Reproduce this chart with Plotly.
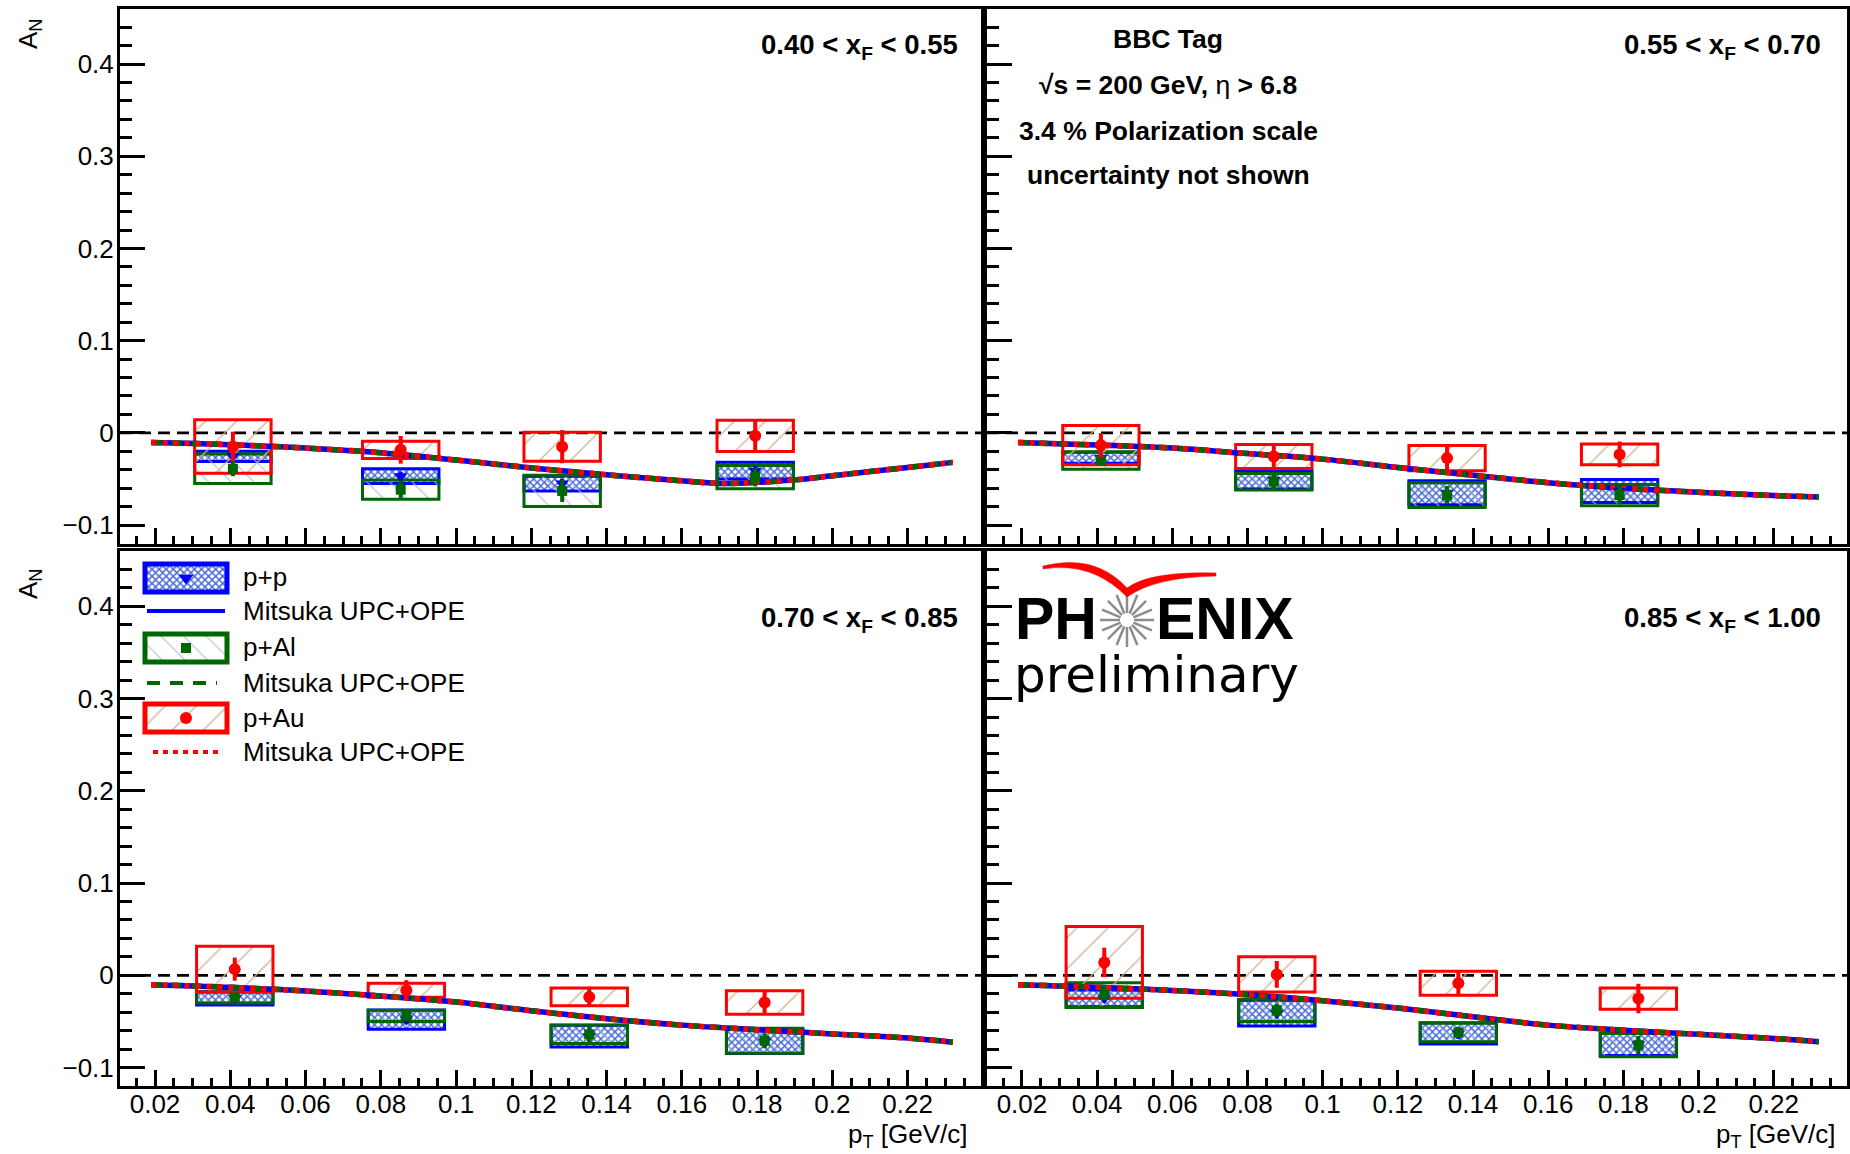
import numpy as np
import plotly.graph_objects as go

W, H = 1850, 1154
FONT = "Liberation Sans, Arial, Helvetica, sans-serif"

# ---------------- data ----------------
xf_labels = ["0.40 &lt; x<sub>F</sub> &lt; 0.55", "0.55 &lt; x<sub>F</sub> &lt; 0.70",
             "0.70 &lt; x<sub>F</sub> &lt; 0.85", "0.85 &lt; x<sub>F</sub> &lt; 1.00"]

x_tickvals = [0.02, 0.04, 0.06, 0.08, 0.10, 0.12, 0.14, 0.16, 0.18, 0.20, 0.22]
x_ticktext = ["0.02", "0.04", "0.06", "0.08", "0.1", "0.12", "0.14", "0.16", "0.18", "0.2", "0.22"]
y_tickvals = [-0.1, 0.0, 0.1, 0.2, 0.3, 0.4]
y_ticktext = ["\u22120.1", "0", "0.1", "0.2", "0.3", "0.4"]

# panel 1 : 0.40 < xF < 0.55
pt_1 = [0.0407, 0.0853, 0.1282, 0.1795]
pp_1 = [-0.0255, -0.047, -0.055, -0.041]
pp_stat_1 = [0.004, 0.005, 0.005, 0.005]
pp_syst_1 = [0.0055, 0.008, 0.008, 0.009]
pal_1 = [-0.039, -0.0616, -0.063, -0.048]
pal_stat_1 = [0.008, 0.010, 0.012, 0.010]
pal_syst_1 = [0.016, 0.0105, 0.017, 0.0125]
pau_1 = [-0.0148, -0.0184, -0.0150, -0.0032]
pau_stat_1 = [0.016, 0.015, 0.018, 0.017]
pau_syst_1 = [0.029, 0.0094, 0.0157, 0.017]

# panel 2 : 0.55 < xF < 0.70
pt_2 = [0.0410, 0.0870, 0.1331, 0.1790]
pp_2 = [-0.027, -0.051, -0.065, -0.063]
pp_stat_2 = [0.004, 0.005, 0.006, 0.006]
pp_syst_2 = [0.006, 0.010, 0.013, 0.0125]
pal_2 = [-0.030, -0.053, -0.0675, -0.0675]
pal_stat_2 = [0.006, 0.008, 0.010, 0.010]
pal_syst_2 = [0.0095, 0.009, 0.0135, 0.0115]
pau_2 = [-0.0133, -0.0256, -0.0274, -0.0234]
pau_stat_2 = [0.013, 0.012, 0.0145, 0.014]
pau_syst_2 = [0.0213, 0.013, 0.0137, 0.0112]

# panel 3 : 0.70 < xF < 0.85
pt_3 = [0.0412, 0.0868, 0.1354, 0.1820]
pp_3 = [-0.025, -0.048, -0.066, -0.0717]
pp_stat_3 = [0.004, 0.005, 0.006, 0.006]
pp_syst_3 = [0.0073, 0.0104, 0.0118, 0.013]
pal_3 = [-0.024, -0.044, -0.064, -0.071]
pal_stat_3 = [0.005, 0.006, 0.008, 0.008]
pal_syst_3 = [0.006, 0.006, 0.010, 0.0135]
pau_3 = [0.0067, -0.0162, -0.0234, -0.0295]
pau_stat_3 = [0.0125, 0.011, 0.011, 0.013]
pau_syst_3 = [0.0247, 0.0077, 0.0096, 0.0128]

# panel 4 : 0.85 < xF < 1.00
pt_4 = [0.0419, 0.0878, 0.1361, 0.1840]
pp_4 = [-0.025, -0.041, -0.063, -0.075]
pp_stat_4 = [0.004, 0.005, 0.006, 0.006]
pp_syst_4 = [0.009, 0.014, 0.0115, 0.0118]
pal_4 = [-0.0215, -0.038, -0.062, -0.0757]
pal_stat_4 = [0.005, 0.007, 0.006, 0.010]
pal_syst_4 = [0.0135, 0.012, 0.010, 0.0125]
pau_4 = [0.0140, 0.0010, -0.0086, -0.0252]
pau_stat_4 = [0.016, 0.0145, 0.014, 0.016]
pau_syst_4 = [0.039, 0.019, 0.013, 0.0115]

# Mitsuka UPC+OPE model curves
model_x_1 = [0.019, 0.04, 0.06, 0.08, 0.10, 0.12, 0.14, 0.16, 0.17, 0.18, 0.19, 0.20, 0.21, 0.22, 0.232]
model_1 = [-0.0105, -0.0128, -0.0165, -0.0215, -0.0295, -0.038, -0.0455, -0.052, -0.0548, -0.0537,
           -0.051, -0.0465, -0.042, -0.0375, -0.032]
model_x = [0.019, 0.04, 0.06, 0.08, 0.10, 0.12, 0.14, 0.16, 0.18, 0.20, 0.22, 0.232]
model_2 = [-0.0105, -0.0132, -0.0165, -0.0225, -0.0285, -0.0375, -0.046, -0.054, -0.060, -0.0645, -0.068, -0.0695]
model_3 = [-0.0101, -0.013, -0.017, -0.0225, -0.029, -0.0385, -0.047, -0.054, -0.059, -0.0635, -0.068, -0.0725]
model_4 = [-0.0101, -0.013, -0.0165, -0.021, -0.0275, -0.0355, -0.045, -0.054, -0.0595, -0.064, -0.0685, -0.072]

legend_labels = ["p+p", "Mitsuka UPC+OPE", "p+Al", "Mitsuka UPC+OPE", "p+Au", "Mitsuka UPC+OPE"]

# ---------------- styles ----------------
BLUE = "#0000ff"
GREEN = "#006600"
RED = "#ff0000"
BOX_W = 0.0203
PAT_PP = dict(shape="x", fgcolor="rgba(55,90,210,0.9)", bgcolor="rgba(0,0,0,0)", size=5, solidity=0.5, fillmode="replace")
PAT_AL = dict(shape="\\", fgcolor="#a9bdd2", bgcolor="rgba(0,0,0,0)", size=16, solidity=0.07, fillmode="replace")
PAT_AU = dict(shape="/", fgcolor="#d6b08a", bgcolor="rgba(0,0,0,0)", size=22, solidity=0.06, fillmode="replace")

# panel pixel frames (left, right, top, bottom)
frames = [(120, 981, 8.7, 543.5), (987, 1847, 8.7, 543.5), (120, 981, 551, 1086), (987, 1847, 551, 1086)]


def px(x):
    return x / W


def py(y):
    return 1 - y / H


fig = go.Figure()

panels = [
    (pt_1, pp_1, pp_stat_1, pp_syst_1, pal_1, pal_stat_1, pal_syst_1, pau_1, pau_stat_1, pau_syst_1, model_x_1, model_1),
    (pt_2, pp_2, pp_stat_2, pp_syst_2, pal_2, pal_stat_2, pal_syst_2, pau_2, pau_stat_2, pau_syst_2, model_x, model_2),
    (pt_3, pp_3, pp_stat_3, pp_syst_3, pal_3, pal_stat_3, pal_syst_3, pau_3, pau_stat_3, pau_syst_3, model_x, model_3),
    (pt_4, pp_4, pp_stat_4, pp_syst_4, pal_4, pal_stat_4, pal_syst_4, pau_4, pau_stat_4, pau_syst_4, model_x, model_4),
]


def box_trace(x, v, s, col, pat, xa, ya):
    return go.Bar(x=x, y=[2 * e for e in s], base=[a - e for a, e in zip(v, s)], width=BOX_W,
                  marker=dict(color="rgba(0,0,0,0)", line=dict(color=col, width=3), pattern=pat),
                  xaxis=xa, yaxis=ya, showlegend=False, hoverinfo="skip")


for i, (pt, pp, ppst, ppsy, pal, palst, palsy, pau, paust, pausy, mx, my) in enumerate(panels):
    xa = "x" if i == 0 else f"x{i+1}"
    ya = "y" if i == 0 else f"y{i+1}"
    fig.add_trace(box_trace(pt, pp, ppsy, BLUE, PAT_PP, xa, ya))
    fig.add_trace(box_trace(pt, pal, palsy, GREEN, PAT_AL, xa, ya))
    fig.add_trace(box_trace(pt, pau, pausy, RED, PAT_AU, xa, ya))
    fig.add_trace(go.Scatter(x=mx, y=my, mode="lines", line=dict(color=BLUE, width=5.5, shape="spline"),
                             xaxis=xa, yaxis=ya, showlegend=False))
    fig.add_trace(go.Scatter(x=mx, y=my, mode="lines", line=dict(color=GREEN, width=5.5, shape="spline", dash="10px,10px"),
                             xaxis=xa, yaxis=ya, showlegend=False))
    fig.add_trace(go.Scatter(x=mx, y=my, mode="lines", line=dict(color=RED, width=5.5, shape="spline", dash="5px,6px"),
                             xaxis=xa, yaxis=ya, showlegend=False))
    fig.add_trace(go.Scatter(x=pt, y=pp, mode="markers",
                             marker=dict(symbol="triangle-down", size=12, color=BLUE),
                             error_y=dict(type="data", array=ppst, color=BLUE, thickness=4, width=0),
                             xaxis=xa, yaxis=ya, showlegend=False))
    fig.add_trace(go.Scatter(x=pt, y=pal, mode="markers",
                             marker=dict(symbol="square", size=10, color=GREEN),
                             error_y=dict(type="data", array=palst, color=GREEN, thickness=4, width=0),
                             xaxis=xa, yaxis=ya, showlegend=False))
    fig.add_trace(go.Scatter(x=pt, y=pau, mode="markers",
                             marker=dict(symbol="circle", size=12, color=RED),
                             error_y=dict(type="data", array=paust, color=RED, thickness=4, width=0),
                             xaxis=xa, yaxis=ya, showlegend=False))

# ---------------- legend (drawn in a pixel-space overlay axis) ----------------
leg_box_y = [578, 648, 718]
leg_line_y = [611, 683, 752]
leg_text_y = [577, 611, 647, 683, 718, 752]
LX0, LX1 = 145, 227
for (yc, col, pat) in zip(leg_box_y, [BLUE, GREEN, RED], [PAT_PP, PAT_AL, PAT_AU]):
    fig.add_trace(go.Bar(x=[(LX0 + LX1) / 2], y=[28], base=[yc - 14], width=LX1 - LX0,
                         marker=dict(color="rgba(0,0,0,0)", line=dict(color=col, width=5), pattern=pat),
                         xaxis="x5", yaxis="y5", showlegend=False, hoverinfo="skip"))
for (yc, sym, sz, col) in zip(leg_box_y, ["triangle-down", "square", "circle"], [13, 10, 12], [BLUE, GREEN, RED]):
    fig.add_trace(go.Scatter(x=[(LX0 + LX1) / 2], y=[yc], mode="markers",
                             marker=dict(symbol=sym, size=sz, color=col),
                             xaxis="x5", yaxis="y5", showlegend=False))
for (yc, col, dash, x0, x1) in zip(leg_line_y, [BLUE, GREEN, RED], ["solid", "13px,10px", "5px,5px"],
                                   [147, 147, 153], [225, 217, 220]):
    fig.add_trace(go.Scatter(x=[x0, x1], y=[yc, yc], mode="lines", line=dict(color=col, width=4, dash=dash),
                             xaxis="x5", yaxis="y5", showlegend=False))

annotations = []
for yc, t in zip(leg_text_y, legend_labels):
    annotations.append(dict(x=px(241), y=py(yc), xref="paper", yref="paper", text=t, showarrow=False,
                            xanchor="left", yanchor="middle", font=dict(family=FONT, size=26, color="black")))

# ---------------- axes ----------------
layout_axes = {}
for i, (l, r, t, b) in enumerate(frames):
    sx = "" if i == 0 else str(i + 1)
    bottom = i >= 2
    left = i % 2 == 0
    layout_axes[f"xaxis{sx}"] = dict(
        domain=[px(l), px(r)], range=[0.0107, 0.2395], anchor=f"y{sx}",
        tickmode="array", tickvals=x_tickvals, ticktext=x_ticktext, showticklabels=bottom,
        ticks="inside", ticklen=16, tickwidth=2.5, tickcolor="black",
        minor=dict(tickmode="linear", tick0=0, dtick=0.005, ticks="inside", ticklen=8, tickwidth=2.5,
                   tickcolor="black", showgrid=False),
        showline=True, linewidth=3, linecolor="black", mirror=True, showgrid=False, zeroline=False,
        tickfont=dict(family=FONT, size=26, color="black"), ticklabelstandoff=-7, fixedrange=True)
    layout_axes[f"yaxis{sx}"] = dict(
        domain=[py(b), py(t)], range=[-0.12, 0.46], anchor=f"x{sx}",
        tickmode="array", tickvals=y_tickvals, ticktext=y_ticktext, showticklabels=left,
        ticks="inside", ticklen=25, tickwidth=2.5, tickcolor="black",
        minor=dict(tickmode="linear", tick0=0, dtick=0.02, ticks="inside", ticklen=12, tickwidth=2.5,
                   tickcolor="black", showgrid=False),
        showline=True, linewidth=3, linecolor="black", mirror=True, showgrid=False, zeroline=False,
        tickfont=dict(family=FONT, size=26, color="black"), ticklabelstandoff=-2, fixedrange=True)

layout_axes["xaxis5"] = dict(domain=[0, 1], range=[0, W], anchor="y5", visible=False, fixedrange=True)
layout_axes["yaxis5"] = dict(domain=[0, 1], range=[H, 0], anchor="x5", visible=False, fixedrange=True)

# ---------------- shapes ----------------
shapes = []
for i in range(4):
    sx = "" if i == 0 else str(i + 1)
    shapes.append(dict(type="line", xref=f"x{sx} domain", yref=f"y{sx}", x0=0, x1=1, y0=0, y1=0,
                       line=dict(color="black", width=2.8, dash="12px,7px"), layer="below"))

# PHENIX logo: starburst + swoosh
cx, cy = 1127, 620
for k in range(16):
    a = k * np.pi / 8
    shapes.append(dict(type="line", xref="x5", yref="y5",
                       x0=cx + 7 * np.cos(a), y0=cy + 7 * np.sin(a),
                       x1=cx + 27 * np.cos(a), y1=cy + 27 * np.sin(a),
                       line=dict(color="#8c8c8c", width=2.5)))
shapes.append(dict(type="path", xref="x5", yref="y5",
                   path="M 1043 566 Q 1095 553 1127 588 Q 1150 571 1216 573 L 1216 576 Q 1155 577 1127 597 Q 1092 561 1043 569 Z",
                   fillcolor=RED, line=dict(color=RED, width=0.5)))

# ---------------- text ----------------
label_pos = [(960, 47), (1823, 47), (960, 619), (1823, 619)]
for (xr, yc), t in zip(label_pos, xf_labels):
    annotations.append(dict(x=px(xr), y=py(yc), xref="paper", yref="paper", text=f"<b>{t}</b>", showarrow=False,
                            xanchor="right", yanchor="middle", font=dict(family=FONT, size=27.5, color="black")))

info = ["<b>BBC Tag</b>", "<b>\u221as = 200 GeV, </b>\u03b7<b> &gt; 6.8</b>",
        "<b>3.4 % Polarization scale</b>", "<b>uncertainty not shown</b>"]
for yc, t in zip([39, 85, 131, 175], info):
    annotations.append(dict(x=px(1168), y=py(yc), xref="paper", yref="paper", text=t, showarrow=False,
                            xanchor="center", yanchor="middle", font=dict(family=FONT, size=26.5, color="black")))

for yc in [34, 584]:
    annotations.append(dict(x=px(30), y=py(yc), xref="paper", yref="paper", text="A<sub>N</sub>", showarrow=False,
                            textangle=-90, xanchor="center", yanchor="middle",
                            font=dict(family=FONT, size=26, color="black")))
for xr in [970, 1838]:
    annotations.append(dict(x=px(xr), y=py(1135), xref="paper", yref="paper", text="p<sub>T</sub> [GeV/c]",
                            showarrow=False, xanchor="right", yanchor="middle",
                            font=dict(family=FONT, size=26, color="black")))

# PHENIX preliminary
annotations.append(dict(x=px(1099), y=py(619), xref="paper", yref="paper", text="<b>PH</b>", showarrow=False,
                        xanchor="right", yanchor="middle", font=dict(family=FONT, size=59, color="black")))
annotations.append(dict(x=px(1154), y=py(619), xref="paper", yref="paper", text="<b>ENIX</b>", showarrow=False,
                        xanchor="left", yanchor="middle", font=dict(family=FONT, size=59, color="black")))
annotations.append(dict(x=px(1012), y=py(675), xref="paper", yref="paper", text="preliminary", showarrow=False,
                        xanchor="left", yanchor="middle", font=dict(family="DejaVu Sans", size=50, color="black")))

fig.update_layout(
    width=W, height=H, margin=dict(l=0, r=0, t=0, b=0),
    paper_bgcolor="white", plot_bgcolor="rgba(0,0,0,0)",
    barmode="overlay", showlegend=False,
    shapes=shapes, annotations=annotations,
    **layout_axes,
)

fig.write_html("out.html")
